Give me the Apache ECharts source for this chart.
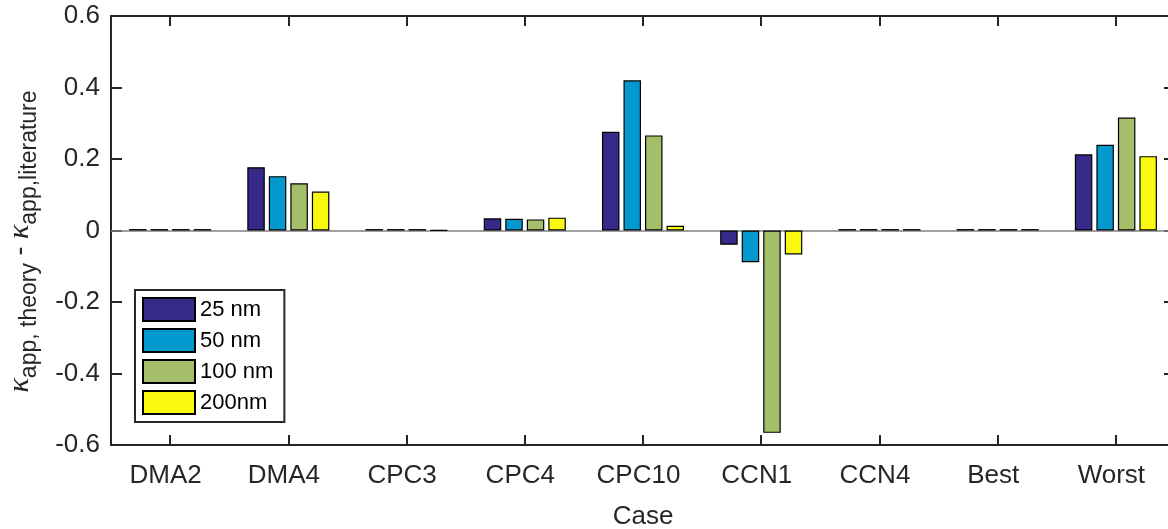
<!DOCTYPE html>
<html>
<head>
<meta charset="utf-8">
<script src="https://cdn.jsdelivr.net/npm/echarts@6/dist/echarts.min.js"></script>
<style>
  html, body { margin: 0; padding: 0; background: #fff; overflow: hidden; }
  #wrap { position: relative; width: 1168px; height: 529px; overflow: hidden; }
  #chart { position: absolute; left: 0; top: 0; width: 1177px; height: 529px; }
</style>
</head>
<body>
<div id="wrap"><div id="chart"></div></div>
<script>
var cases = ['DMA2', 'DMA4', 'CPC3', 'CPC4', 'CPC10', 'CCN1', 'CCN4', 'Best', 'Worst'];
var yTicks = [-0.6, -0.4, -0.2, 0, 0.2, 0.4, 0.6];
var sizes = ['25 nm', '50 nm', '100 nm', '200nm'];
var colors = ['#352a87', '#0399cf', '#a5be69', '#f9f90f'];
var d25 = [0.004, 0.177, 0.004, 0.034, 0.276, -0.040, 0.004, 0.004, 0.213];
var d50 = [0.004, 0.152, 0.004, 0.033, 0.420, -0.089, 0.004, 0.004, 0.240];
var d100 = [0.004, 0.132, 0.004, 0.031, 0.266, -0.566, 0.004, 0.004, 0.316];
var d200 = [0.004, 0.109, 0.001, 0.036, 0.013, -0.067, 0.004, 0.004, 0.208];
var values = [d25, d50, d100, d200];

var font = '"Liberation Sans", Arial, Helvetica, sans-serif';
var axisColor = '#262626';

var chart = echarts.init(document.getElementById('chart'));

var series = sizes.map(function (name, i) {
    var s = {
        name: name,
        type: 'bar',
        z: 3,
        data: values[i],
        barWidth: 17.5,
        barGap: '23%',
        itemStyle: { color: colors[i], borderColor: '#000', borderWidth: 1.2 },
        emphasis: { disabled: true }
    };
    if (i === 0) {
        s.markLine = {
            silent: true,
            z: 1,
            symbol: 'none',
            label: { show: false },
            lineStyle: { color: '#808080', width: 1.5, type: 'solid' },
            data: [{ yAxis: 0 }]
        };
    }
    return s;
});

var option = {
    animation: false,
    backgroundColor: '#fff',
    grid: { left: 111, top: 16, right: 2, bottom: 84, show: false, containLabel: false, outerBoundsMode: 'none' },
    legend: {
        orient: 'vertical',
        left: 135,
        top: 290,
        data: sizes,
        itemWidth: 52,
        itemHeight: 23,
        itemGap: 6,
        padding: [7, 11, 7, 7],
        borderColor: axisColor,
        borderWidth: 2,
        backgroundColor: '#fff',
        icon: 'rect',
        textStyle: { fontFamily: font, fontSize: 22, color: '#000' }
    },
    xAxis: [{
        type: 'category',
        data: cases,
        position: 'bottom',
        name: 'Case',
        nameLocation: 'middle',
        nameGap: 59,
        nameTextStyle: { fontFamily: font, fontSize: 26, color: axisColor },
        axisLine: { show: true, onZero: false, lineStyle: { color: axisColor, width: 2 } },
        axisTick: { show: true, inside: true, length: 10, alignWithLabel: true, lineStyle: { color: axisColor, width: 2 } },
        axisLabel: { fontFamily: font, fontSize: 26, color: axisColor, margin: 18, padding: [0, 9, 0, 0] },
        splitLine: { show: false }
    }, {
        type: 'category',
        data: cases,
        position: 'top',
        axisLine: { show: true, onZero: false, lineStyle: { color: axisColor, width: 2 } },
        axisTick: { show: true, inside: true, length: 10, alignWithLabel: true, lineStyle: { color: axisColor, width: 2 } },
        axisLabel: { show: false },
        splitLine: { show: false }
    }],
    yAxis: [{
        type: 'value',
        min: yTicks[0],
        max: yTicks[yTicks.length - 1],
        interval: 0.2,
        position: 'left',
        name: '{k|κ}{s|app, theory}{m| - }{k|κ}{s|app,literature}',
        nameLocation: 'middle',
        nameRotate: 90,
        nameGap: 68,
        nameTextStyle: {
            color: axisColor,
            padding: [0, 22, 0, 0],
            rich: {
                k: { fontFamily: '"Liberation Serif", serif', fontStyle: 'italic', fontSize: 30, lineHeight: 30, padding: [0, 0, 9, 0], color: axisColor },
                m: { fontFamily: font, fontSize: 27, lineHeight: 30, padding: [0, 0, 9, 0], color: axisColor },
                s: { fontFamily: font, fontSize: 23, lineHeight: 25, padding: [9, 0, 0, 0], color: axisColor }
            }
        },
        axisLine: { show: true, onZero: false, lineStyle: { color: axisColor, width: 2 } },
        axisTick: { show: true, inside: true, length: 11, lineStyle: { color: axisColor, width: 2 } },
        axisLabel: {
            fontFamily: font, fontSize: 26, color: axisColor, margin: 11,
            formatter: function (v) { return v === 0 ? '0' : (Math.round(v * 10) / 10).toString(); }
        },
        splitLine: { show: false }
    }, {
        type: 'value',
        min: yTicks[0],
        max: yTicks[yTicks.length - 1],
        interval: 0.2,
        position: 'right',
        axisLine: { show: true, onZero: false, lineStyle: { color: axisColor, width: 2 } },
        axisTick: { show: true, inside: true, length: 11, lineStyle: { color: axisColor, width: 2 } },
        axisLabel: { show: false },
        splitLine: { show: false }
    }],
    series: series
};

chart.setOption(option);
</script>
</body>
</html>
